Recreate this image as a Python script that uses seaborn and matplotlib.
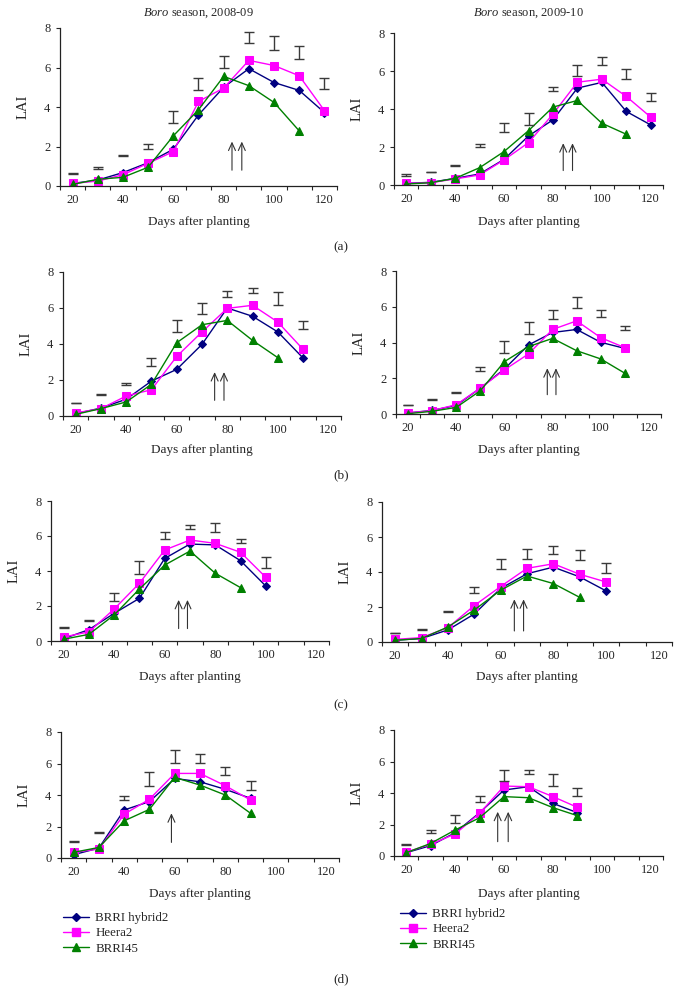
import matplotlib
matplotlib.use("Agg")
import matplotlib.pyplot as plt
import seaborn as sns
from matplotlib.lines import Line2D

# ---- data (LAI) ----
days_a = [20, 30, 40, 50, 60, 70, 80, 90, 100, 110, 120]
days_b = [20, 30, 40, 50, 60, 70, 80, 90, 100, 110]
days_c = [20, 30, 40, 50, 60, 70, 80, 90, 100]
days_d = [20, 30, 40, 50, 60, 70, 80, 90]

# (a) 2008-09
hyb_a1 = [0.13, 0.30, 0.68, 1.18, 1.86, 3.60, 5.00, 5.94, 5.24, 4.84, 3.72]
heera_a1 = [0.13, 0.25, 0.57, 1.15, 1.74, 4.28, 4.96, 6.36, 6.10, 5.58, 3.82]
b45_a1 = [0.08, 0.34, 0.44, 0.95, 2.54, 3.86, 5.55, 5.08, 4.23, 2.79]
lsd_mid_a1 = [0.64, 0.93, 1.54, 2.00, 3.50, 5.18, 6.27, 7.52, 7.25, 6.76, 5.19]
lsd_half_a1 = [0.03, 0.05, 0.03, 0.13, 0.30, 0.31, 0.30, 0.29, 0.34, 0.31, 0.27]
arrows_a1 = [83.3, 87.2]
# (a) 2009-10
hyb_a2 = [0.09, 0.14, 0.35, 0.58, 1.35, 2.58, 3.43, 5.10, 5.40, 3.87, 3.16]
heera_a2 = [0.09, 0.12, 0.32, 0.53, 1.32, 2.23, 3.73, 5.41, 5.57, 4.66, 3.57]
b45_a2 = [0.05, 0.12, 0.35, 0.91, 1.76, 2.86, 4.10, 4.45, 3.25, 2.67]
lsd_mid_a2 = [0.53, 0.70, 1.02, 2.07, 3.03, 3.47, 5.06, 6.04, 6.52, 5.85, 4.63]
lsd_half_a2 = [0.03, 0.01, 0.03, 0.07, 0.22, 0.31, 0.09, 0.29, 0.23, 0.26, 0.20]
arrows_a2 = [84.2, 88.0]

# (b)
hyb_b1 = [0.13, 0.44, 0.93, 1.94, 2.59, 3.98, 6.00, 5.54, 4.67, 3.22]
heera_b1 = [0.17, 0.41, 1.11, 1.46, 3.31, 4.67, 5.98, 6.15, 5.22, 3.70]
b45_b1 = [0.09, 0.41, 0.78, 1.76, 4.07, 5.07, 5.31, 4.20, 3.24]
lsd_mid_b1 = [0.72, 1.20, 1.76, 3.00, 5.00, 5.98, 6.78, 6.97, 6.52, 5.04]
lsd_half_b1 = [0.01, 0.04, 0.05, 0.20, 0.32, 0.30, 0.17, 0.14, 0.37, 0.23]
arrows_b1 = [75.0, 78.7]
hyb_b2 = [0.06, 0.20, 0.48, 1.45, 2.52, 3.86, 4.56, 4.73, 4.01, 3.67]
heera_b2 = [0.06, 0.19, 0.52, 1.45, 2.47, 3.36, 4.73, 5.21, 4.27, 3.71]
b45_b2 = [0.02, 0.15, 0.37, 1.30, 2.93, 3.77, 4.23, 3.54, 3.08, 2.28]
lsd_mid_b2 = [0.52, 0.80, 1.22, 2.53, 3.74, 4.80, 5.57, 6.24, 5.62, 4.81]
lsd_half_b2 = [0.01, 0.03, 0.03, 0.12, 0.34, 0.35, 0.23, 0.30, 0.18, 0.12]
arrows_b2 = [77.8, 81.4]

# (c)
hyb_c1 = [0.13, 0.65, 1.58, 2.44, 4.72, 5.54, 5.49, 4.59, 3.14]
heera_c1 = [0.23, 0.52, 1.83, 3.30, 5.20, 5.77, 5.58, 5.07, 3.64]
b45_c1 = [0.10, 0.38, 1.49, 2.97, 4.34, 5.14, 3.87, 3.05]
lsd_mid_c1 = [0.75, 1.19, 2.50, 4.19, 6.02, 6.51, 6.47, 5.72, 4.50]
lsd_half_c1 = [0.03, 0.03, 0.22, 0.38, 0.19, 0.11, 0.26, 0.10, 0.31]
arrows_c1 = [65.5, 69.0]
hyb_c2 = [0.10, 0.20, 0.69, 1.60, 3.06, 3.90, 4.28, 3.72, 2.92]
heera_c2 = [0.15, 0.25, 0.82, 2.08, 3.17, 4.21, 4.47, 3.87, 3.43]
b45_c2 = [0.10, 0.20, 0.86, 1.83, 2.96, 3.77, 3.34, 2.55]
lsd_mid_c2 = [0.50, 0.72, 1.73, 2.97, 4.48, 5.03, 5.27, 4.96, 4.25]
lsd_half_c2 = [0.01, 0.03, 0.03, 0.18, 0.29, 0.31, 0.24, 0.28, 0.28]
arrows_c2 = [65.2, 68.7]

# (d)
hyb_d1 = [0.21, 0.63, 3.05, 3.58, 5.05, 4.84, 4.36, 3.79]
heera_d1 = [0.36, 0.57, 2.78, 3.73, 5.37, 5.37, 4.59, 3.68]
b45_d1 = [0.36, 0.67, 2.36, 3.09, 5.12, 4.63, 4.00, 2.84]
lsd_mid_d1 = [1.05, 1.62, 3.82, 5.02, 6.44, 6.31, 5.53, 4.60]
lsd_half_d1 = [0.03, 0.05, 0.14, 0.45, 0.40, 0.27, 0.26, 0.28]
arrows_d1 = [58.7]
hyb_d2 = [0.21, 0.66, 1.48, 2.75, 4.19, 4.40, 3.34, 2.75]
heera_d2 = [0.25, 0.74, 1.40, 2.71, 4.44, 4.40, 3.77, 3.09]
b45_d2 = [0.21, 0.80, 1.65, 2.43, 3.77, 3.70, 3.07, 2.56]
lsd_mid_d2 = [0.74, 1.55, 2.36, 3.63, 5.12, 5.33, 4.83, 4.05]
lsd_half_d2 = [0.01, 0.08, 0.24, 0.18, 0.34, 0.13, 0.38, 0.24]
arrows_d2 = [57.4, 61.7]

arrow_span = {"a1": (0.80, 2.25), "a2": (0.76, 2.20), "b1": (0.87, 2.44), "b2": (1.08, 2.56),
              "c1": (0.71, 2.35), "c2": (0.63, 2.44), "d1": (0.99, 2.84), "d2": (0.91, 2.81)}

varieties = ["BRRI hybrid2", "Heera2", "BRRI45"]
titles = ["Boro season, 2008-09", "Boro season, 2009-10"]
panel_letters = ["(a)", "(b)", "(c)", "(d)"]

panels = [
    ("a1", days_a, hyb_a1, heera_a1, days_a[:10], b45_a1, lsd_mid_a1, lsd_half_a1, arrows_a1),
    ("a2", days_a, hyb_a2, heera_a2, days_a[:10], b45_a2, lsd_mid_a2, lsd_half_a2, arrows_a2),
    ("b1", days_b, hyb_b1, heera_b1, days_b[:9], b45_b1, lsd_mid_b1, lsd_half_b1, arrows_b1),
    ("b2", days_b, hyb_b2, heera_b2, days_b, b45_b2, lsd_mid_b2, lsd_half_b2, arrows_b2),
    ("c1", days_c, hyb_c1, heera_c1, days_c[:8], b45_c1, lsd_mid_c1, lsd_half_c1, arrows_c1),
    ("c2", days_c, hyb_c2, heera_c2, days_c[:8], b45_c2, lsd_mid_c2, lsd_half_c2, arrows_c2),
    ("d1", days_d, hyb_d1, heera_d1, days_d, b45_d1, lsd_mid_d1, lsd_half_d1, arrows_d1),
    ("d2", days_d, hyb_d2, heera_d2, days_d, b45_d2, lsd_mid_d2, lsd_half_d2, arrows_d2),
]

# ---- layout (pixels in a 682x993 canvas): x0, x1, ytop, ybottom ----
W, H = 682, 993
boxes = {
    "a1": (60, 337, 28, 186), "a2": (394, 663, 33, 185),
    "b1": (63, 341, 272, 416), "b2": (396, 661, 271, 414),
    "c1": (51, 329, 501, 641), "c2": (382, 672, 502, 642),
    "d1": (61, 339, 732, 858), "d2": (394, 663, 730, 856),
}
xlabel_y = [222, 450, 677, 894]
letter_y = [247, 475, 705, 979]

sns.set_style("ticks")
plt.rcParams["font.family"] = ["Liberation Serif", "DejaVu Serif"]
plt.rcParams["mathtext.fontset"] = "custom"
plt.rcParams["mathtext.rm"] = "Liberation Serif"
plt.rcParams["mathtext.it"] = "Liberation Serif:italic"

colors = ["#000080", "#ff00ff", "#008000"]
markers = ["D", "s", "^"]
msizes = [4.3, 5.2, 6.0]
bar_col = "#3a3a3a"

fig = plt.figure(figsize=(W / 100, H / 100), dpi=100)


def fx(x):
    return x / W


def fy(y):
    return 1 - y / H


for i, (key, days, hyb, heera, days45, b45, lmid, lhalf, arrows) in enumerate(panels):
    x0, x1, yt, yb = boxes[key]
    ax = fig.add_axes([fx(x0), fy(yb), (x1 - x0) / W, (yb - yt) / H])
    for vals, dd, c, m, ms in zip([hyb, heera, b45], [days, days, days45], colors, markers, msizes):
        sns.lineplot(x=dd, y=vals, ax=ax, color=c, marker=m, markersize=ms,
                     markeredgecolor=c, linewidth=1.0, legend=False)
    ax.errorbar(days, lmid, yerr=lhalf, fmt="none", ecolor=bar_col,
                elinewidth=1.0, capsize=3.5, capthick=1.0)
    lo, hi = arrow_span[key]
    for ax_x in arrows:
        ax.annotate("", xy=(ax_x, hi), xytext=(ax_x, lo),
                    arrowprops=dict(arrowstyle="->,head_length=0.55,head_width=0.25",
                                    color="#333333", lw=0.8, shrinkA=0, shrinkB=0))
    ax.set_xlim(15, 125)
    ax.set_ylim(0, 8)
    ax.set_xticks([20, 40, 60, 80, 100, 120])
    ax.set_xticks(list(range(15, 126, 10)), minor=True)
    ax.set_yticks([0, 2, 4, 6, 8])
    ax.tick_params(axis="x", which="major", length=0, pad=6, labelsize=9)
    ax.tick_params(axis="x", which="minor", length=3.2, width=0.8, direction="out")
    ax.tick_params(axis="y", length=3, width=0.8, pad=4, labelsize=9)
    ax.set_xlabel("")
    ax.set_ylabel("")
    for s in ["top", "right"]:
        ax.spines[s].set_visible(False)
    for s in ["left", "bottom"]:
        ax.spines[s].set_linewidth(0.9)
        ax.spines[s].set_color("#222222")
    row = i // 2
    fig.text(fx((x0 + x1) / 2), fy(xlabel_y[row]), "Days after planting",
             ha="center", va="center", fontsize=9.5)
    fig.text(fx(x0 - 37), fy((yt + yb) / 2), "LAI", rotation=90,
             ha="center", va="center", fontsize=10.5)
    if row == 0:
        t = titles[i % 2].replace("Boro", r"$\mathit{Boro}$")
        fig.text(fx((x0 + x1) / 2), fy(13), t, ha="center", va="center", fontsize=9)

for row, lab in enumerate(panel_letters):
    fig.text(fx(341), fy(letter_y[row]), lab, ha="center", va="center", fontsize=9.5)

handles = [Line2D([0], [0], color=c, marker=m, markersize=ms, markeredgecolor=c, lw=1.0)
           for c, m, ms in zip(colors, markers, msizes)]
for lx, ly in [(63, 912), (400, 908)]:
    fig.legend(handles, varieties, loc="upper left", bbox_to_anchor=(fx(lx), fy(ly)),
               frameon=False, fontsize=9.3, handlelength=2.0, handletextpad=0.5,
               labelspacing=0.25, borderpad=0, borderaxespad=0)

fig.savefig("out.png", dpi=100)
